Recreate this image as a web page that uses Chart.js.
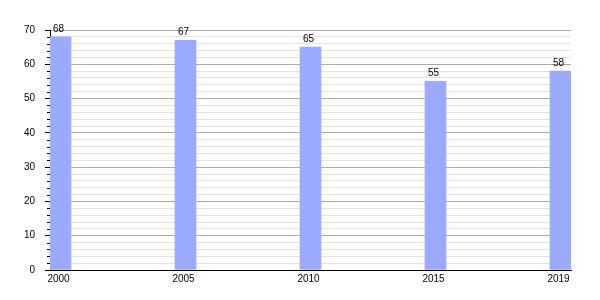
<!DOCTYPE html>
<html>
<head>
<meta charset="utf-8">
<script src="https://cdn.jsdelivr.net/npm/chart.js@4/dist/chart.umd.min.js"></script>
<style>
html,body{margin:0;padding:0;background:#fff;}
#wrap{width:600px;height:300px;}
</style>
</head>
<body>
<div id="wrap"><canvas id="c" width="600" height="300"></canvas></div>
<script>
const categories = ["2000", "2005", "2010", "2015", "2019"];
const values = [68, 67, 65, 55, 58];
const yTickLabels = [0, 10, 20, 30, 40, 50, 60, 70];

const FONT = "'Liberation Sans', Arial, sans-serif";

const valueLabels = {
  id: 'valueLabels',
  afterDatasetsDraw(chart) {
    const ctx = chart.ctx;
    const meta = chart.getDatasetMeta(0);
    ctx.save();
    ctx.font = "10px " + FONT;
    ctx.fillStyle = "#000";
    ctx.textAlign = "center";
    ctx.textBaseline = "bottom";
    meta.data.forEach((bar, i) => {
      ctx.fillText(String(values[i]), bar.x - 2, bar.y - 3);
    });
    ctx.restore();
  }
};

const minorTicks = {
  id: 'minorTicks',
  afterDraw(chart) {
    const y = chart.scales.y;
    const ctx = chart.ctx;
    ctx.save();
    ctx.strokeStyle = "#000";
    ctx.lineWidth = 1;
    for (let v = 0; v <= 70; v += 2) {
      if (yTickLabels.includes(v)) continue;
      const py = Math.round(y.getPixelForValue(v)) + 0.5;
      ctx.beginPath();
      ctx.moveTo(y.right - 3, py);
      ctx.lineTo(y.right, py);
      ctx.stroke();
    }
    ctx.restore();
  }
};

new Chart(document.getElementById('c'), {
  type: 'bar',
  data: {
    datasets: [{
      data: values.map((v, i) => ({x: i, y: v})),
      backgroundColor: '#99aaff',
      borderWidth: 0,
      barThickness: 21
    }]
  },
  plugins: [valueLabels, minorTicks],
  options: {
    responsive: false,
    animation: false,
    layout: {padding: {top: 30, right: 29, bottom: 0, left: 0}},
    plugins: {legend: {display: false}, tooltip: {enabled: false}},
    scales: {
      x: {
        type: 'linear',
        offset: false,
        min: -0.084,
        max: 4.084,
        afterBuildTicks(scale) { scale.ticks = categories.map((_, i) => ({value: i})); },
        afterFit(scale) { scale.height = 30; },
        grid: {display: false, drawTicks: false},
        border: {display: true, color: '#000', width: 1},
        ticks: {
          color: '#000',
          font: {family: FONT, size: 10},
          padding: 3,
          labelOffset: -2,
          maxRotation: 0,
          autoSkip: false,
          callback: (v) => categories[v] ?? ''
        }
      },
      y: {
        min: 0,
        max: 70,
        afterBuildTicks(scale) {
          const t = [];
          for (let v = 0; v <= 70; v += 2) t.push({value: v});
          scale.ticks = t;
        },
        afterFit(scale) { scale.width = 50; },
        border: {display: true, color: '#000', width: 1},
        grid: {
          color: (c) => (c.tick && c.tick.value % 10 === 0) ? '#aaaaaa' : '#e2e2e2',
          tickColor: (c) => (c.tick && c.tick.value % 10 === 0) ? '#000' : 'rgba(0,0,0,0)',
          tickLength: 5
        },
        ticks: {
          color: '#000',
          font: {family: FONT, size: 10},
          padding: 10,
          autoSkip: false,
          callback: (v) => yTickLabels.includes(v) ? String(v) : ''
        }
      }
    }
  }
});
</script>
</body>
</html>
